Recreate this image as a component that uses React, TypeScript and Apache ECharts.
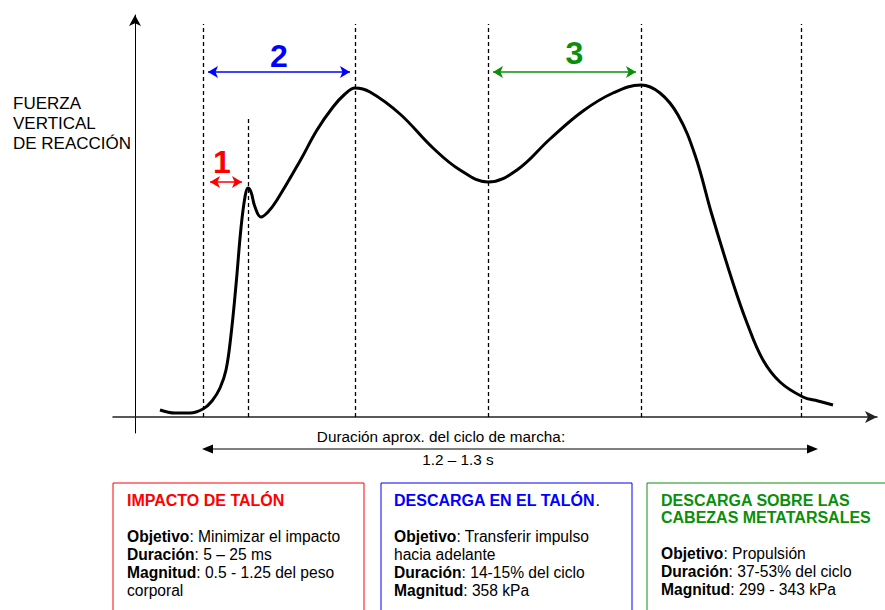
import React, { useEffect, useRef } from 'react';
import * as echarts from 'echarts';

// Curve: time (chart units, y-axis at 0) vs vertical ground reaction force (chart units)
const tiempo = [25, 40, 55, 68, 77, 85, 91, 96, 101, 106, 110, 113, 116, 120, 126, 133, 142, 165, 182, 198, 210, 220, 235, 265, 298, 325, 353, 382, 415, 448, 478, 506, 525, 543, 560, 577, 598, 612, 628, 645, 668, 683, 698];
const fuerza = [7, 4, 4, 8, 16, 29, 47, 82, 132, 189, 220, 229, 225, 210, 200, 205, 217, 256, 287, 310, 323, 329, 325, 303, 269, 247, 235, 247, 278, 306, 324, 332, 324, 302, 262, 202, 134, 94, 57, 35, 20, 16, 12];

// Dashed event lines
const eventos = [68, 113, 220, 353, 506, 666];
const eventoTope = [393, 299, 393, 393, 393, 393];

// Phases (double arrows)
const fases = ['1', '2', '3'];
const faseInicio = [70, 68, 353];
const faseFin = [112, 220, 506];
const faseNivel = [235, 345, 345];

// Gait cycle duration arrow
const ciclo = [67, 683];
const cicloNivel = -32;

// Text
const ejeY = 'FUERZA\nVERTICAL\nDE REACCIÓN';
const cicloTexto = ['Duración aprox. del ciclo de marcha:', '1.2 – 1.3 s'];

const RED = '#ff0000';
const BLUE = '#0000ff';
const GREEN = '#0a8f0a';
const faseColor = [RED, BLUE, GREEN];
const faseOffset = [[-4, 0], [0, 0], [10, 0]];
const faseDist = [4, 0, 3];
const FONT = "'Liberation Sans', Arial, sans-serif";
const INSET = 5;
const BODY = 15.6;
const TITLE = 16;

export default function App() {
  const ref = useRef<HTMLDivElement>(null);
  useEffect(() => {
    if (!ref.current) return;
    const chart = echarts.init(ref.current, null, { renderer: 'svg' });
    const hidden = { axisTick: { show: false }, axisLabel: { show: false }, splitLine: { show: false } };
    chart.setOption({
      animation: false,
      backgroundColor: '#fff',
      grid: { left: 113, right: 8, top: 15, bottom: 177 },
      xAxis: {
        type: 'value', min: -22, max: 742, ...hidden,
        axisLine: { show: true, onZero: true, symbol: ['none', 'arrow'], symbolSize: [9, 12], lineStyle: { color: '#222', width: 1.5 } },
      },
      yAxis: {
        type: 'value', min: -16, max: 402, ...hidden,
        axisLine: { show: true, onZero: true, symbol: ['none', 'arrow'], symbolSize: [9, 11], lineStyle: { color: '#000', width: 1 } },
      },
      series: [
        {
          type: 'line', name: 'eventos', data: [], silent: true,
          markLine: {
            silent: true, symbol: ['none', 'none'], animation: false,
            label: { show: false },
            lineStyle: { type: [4, 3], color: '#000', width: 1.3 },
            data: eventos.map((x, i) => [{ coord: [x, 0] }, { coord: [x, eventoTope[i]] }]),
          },
        },
        {
          type: 'line', name: 'fases', data: [], silent: true,
          markLine: {
            silent: true, symbol: ['arrow', 'arrow'], symbolSize: [9, 10], animation: false,
            data: fases.map((f, i) => [
              {
                coord: [faseInicio[i] + INSET, faseNivel[i]],
                lineStyle: { color: faseColor[i], width: 1.5, type: 'solid' },
                label: {
                  show: true, position: 'middle', formatter: f, color: faseColor[i],
                  fontSize: 32, fontWeight: 'bold', fontFamily: FONT,
                  distance: faseDist[i], offset: faseOffset[i],
                },
              },
              { coord: [faseFin[i] - INSET, faseNivel[i]] },
            ]),
          },
        },
        {
          type: 'line', name: 'fuerza', smooth: 0.4, showSymbol: false, z: 5,
          data: tiempo.map((t, i) => [t, fuerza[i]]),
          lineStyle: { color: '#000', width: 3 },
        },
      ],
    });

    const p1 = chart.convertToPixel({ gridIndex: 0 }, [ciclo[0], cicloNivel]) as number[];
    const p2 = chart.convertToPixel({ gridIndex: 0 }, [ciclo[1], cicloNivel]) as number[];
    const y = p1[1];
    const base = { fontSize: BODY, fontFamily: FONT, fill: '#000' };
    const bold = { fontSize: BODY, fontFamily: FONT, fontWeight: 'bold', fill: '#000' };
    const txt = (x: number, yy: number, text: string, extra: any = {}) => ({
      type: 'text', x, y: yy, silent: true,
      style: { text, ...base, textVerticalAlign: 'middle', rich: { b: bold }, ...extra },
    });
    const box = (x: number, w: number, color: string) => ({
      type: 'rect', silent: true, shape: { x, y: 483, width: w, height: 140 },
      style: { fill: 'none', stroke: color, lineWidth: 1 },
    });
    const titleStyle = (color: string) => ({ fontWeight: 'bold', fontSize: TITLE, fill: color });

    chart.setOption({
      graphic: {
        elements: [
          { type: 'text', x: 13, y: 93, silent: true, style: { text: ejeY, ...base, fontSize: 17, lineHeight: 20, textVerticalAlign: 'top' } },
          { type: 'line', silent: true, shape: { x1: p1[0] + 8, y1: y, x2: p2[0] - 8, y2: y }, style: { stroke: '#000', lineWidth: 1.2 } },
          { type: 'polygon', silent: true, shape: { points: [[p1[0], y], [p1[0] + 11, y - 4.5], [p1[0] + 11, y + 4.5]] }, style: { fill: '#000' } },
          { type: 'polygon', silent: true, shape: { points: [[p2[0], y], [p2[0] - 11, y - 4.5], [p2[0] - 11, y + 4.5]] }, style: { fill: '#000' } },
          txt(441, 436, cicloTexto[0], { textAlign: 'center', fontSize: 15.3 }),
          txt(458, 459, cicloTexto[1], { textAlign: 'center', fontSize: 15.3 }),

          box(113, 251, RED),
          box(381, 251, BLUE),
          box(647, 260, GREEN),

          txt(127, 500, 'IMPACTO DE TALÓN', titleStyle(RED)),
          txt(127, 536, '{b|Objetivo}: Minimizar el impacto'),
          txt(127, 554, '{b|Duración}: 5 – 25 ms'),
          txt(127, 572, '{b|Magnitud}: 0.5 - 1.25 del peso'),
          txt(127, 590, 'corporal'),

          txt(394, 500, '{t|DESCARGA EN EL TALÓN}.', { rich: { t: { ...bold, fontSize: TITLE, fill: BLUE } }, fontSize: TITLE }),
          txt(394, 536, '{b|Objetivo}: Transferir impulso'),
          txt(394, 554, 'hacia adelante'),
          txt(394, 572, '{b|Duración}: 14-15% del ciclo'),
          txt(394, 590, '{b|Magnitud}: 358 kPa'),

          txt(661, 500, 'DESCARGA SOBRE LAS', titleStyle(GREEN)),
          txt(661, 517, 'CABEZAS METATARSALES', titleStyle(GREEN)),
          txt(661, 553, '{b|Objetivo}: Propulsión'),
          txt(661, 571, '{b|Duración}: 37-53% del ciclo'),
          txt(661, 589, '{b|Magnitud}: 299 - 343 kPa'),
        ],
      },
    });
    return () => chart.dispose();
  }, []);
  return <div ref={ref} style={{ position: 'fixed', left: 0, top: 0, width: 885, height: 610, background: '#fff' }} />;
}
